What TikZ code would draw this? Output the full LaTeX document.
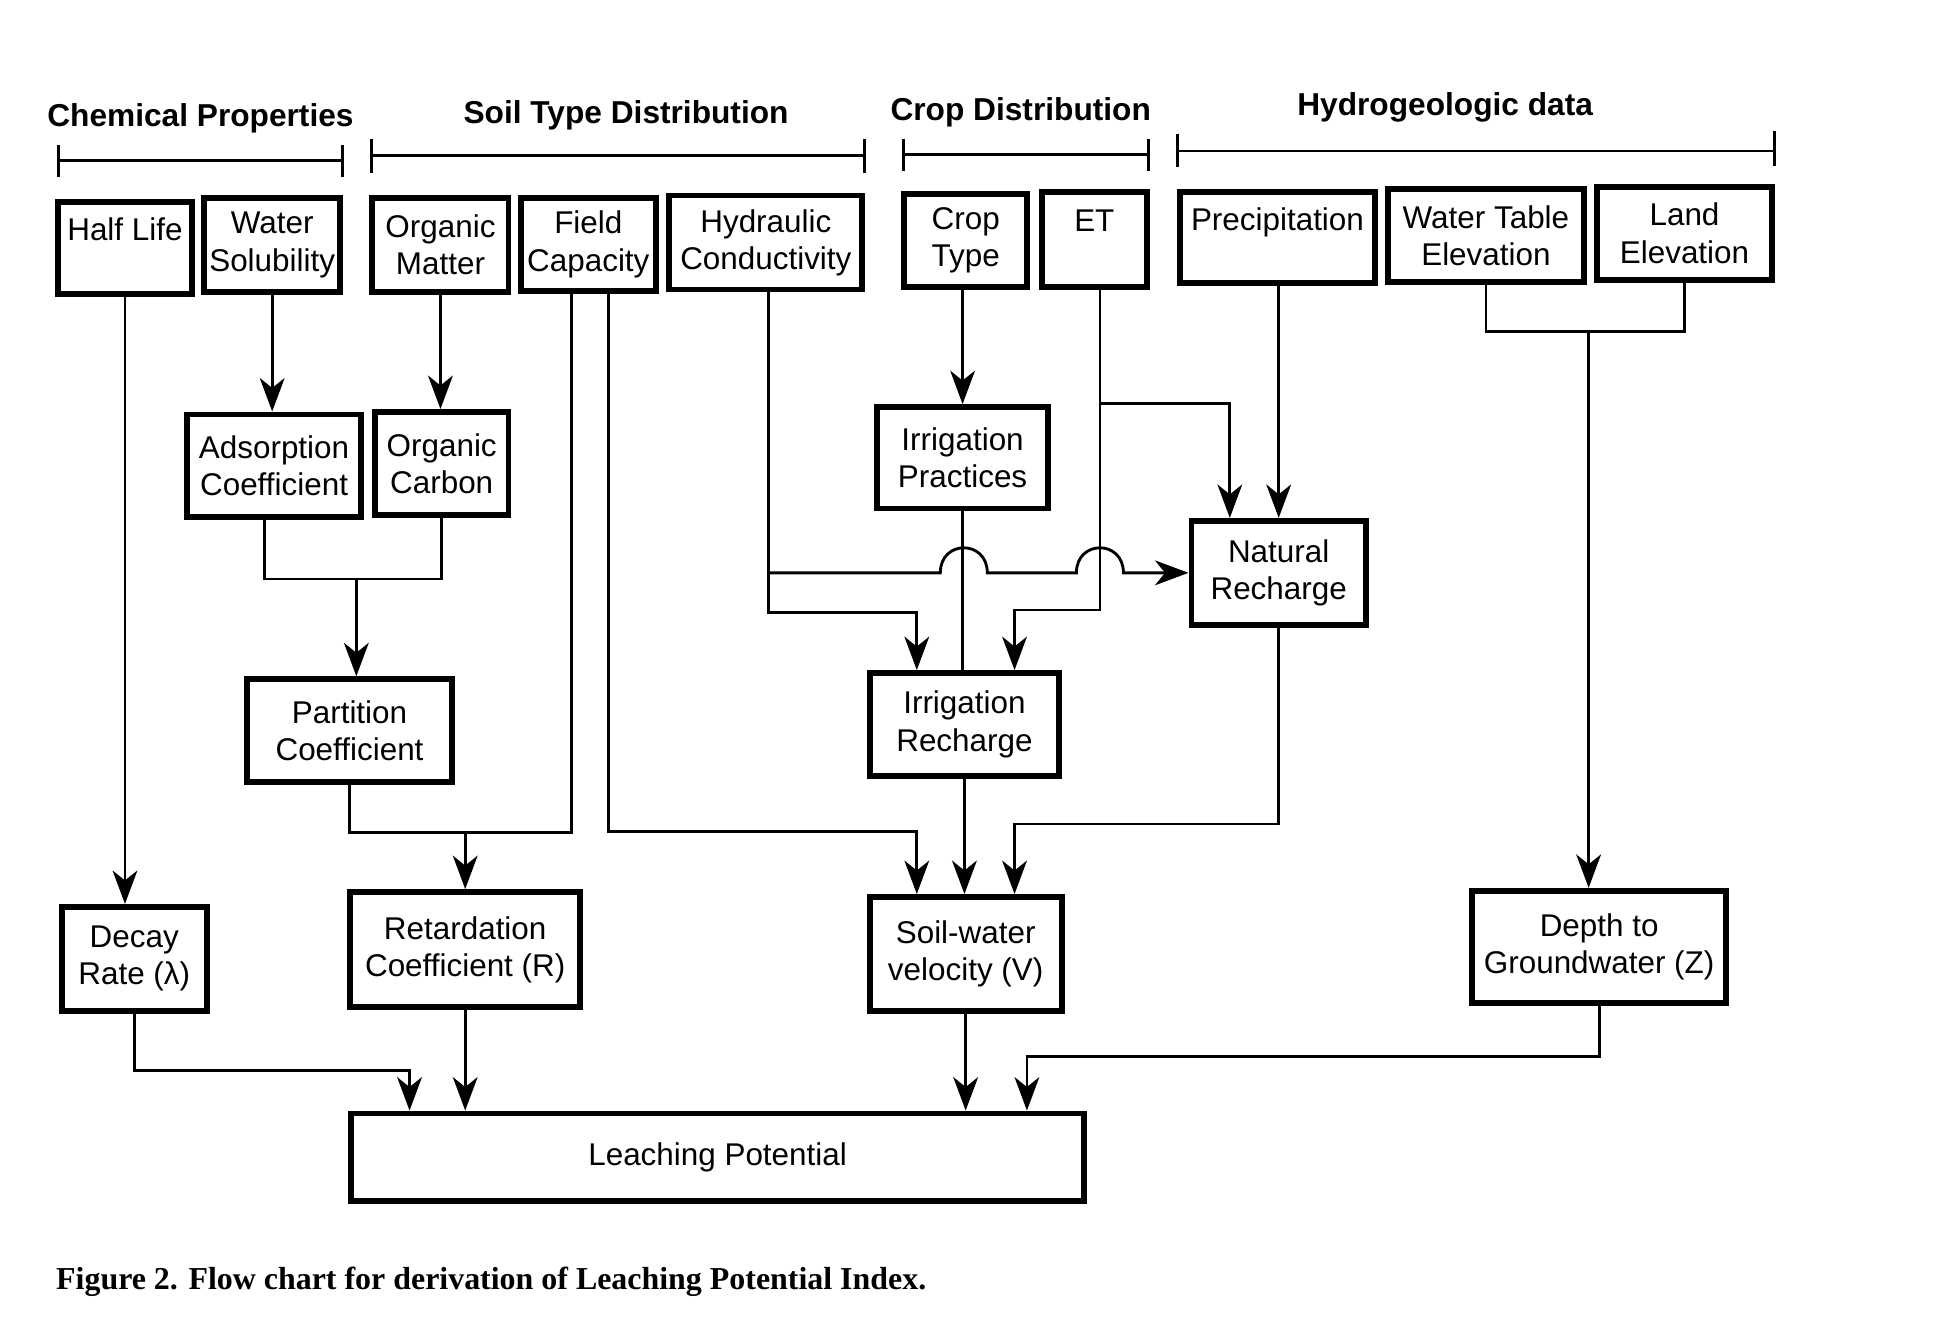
\documentclass[tikz,border=0pt]{standalone}
\usepackage{fontspec}
\setmainfont{Liberation Sans}
\newfontfamily\capfont{Liberation Serif}
\usetikzlibrary{arrows.meta}
\newcommand\bxnode[6]{\node[box, minimum width={(#4-#2)*0.5pt}, minimum height={(#5-#3)*0.5pt}] (#1) at ({(#2+#4)/2},{(#3+#5)/2}) {#6};}
\begin{document}
\begin{tikzpicture}[x=0.5pt,y=-0.5pt,
  box/.style={draw, line width=2.4pt, inner sep=0pt, align=center, font=\fontsize{12.7}{15}\selectfont},
  conn/.style={line width=1.15pt},
  arr/.style={conn, -{Stealth[length=13.5pt,width=10pt,inset=4pt]}},
  hdr/.style={inner sep=0pt, font=\fontsize{12.8}{15}\selectfont\bfseries},
  brk/.style={line width=1.15pt}]
\useasboundingbox[fill=white] (0,0) rectangle (1568,1074);

% headers
\node[hdr] (h1) at (162,96) {Chemical Properties};
\node[hdr] (h2) at (506,93) {Soil Type Distribution};
\node[hdr] (h3) at (825,91) {Crop Distribution};
\node[hdr] (h4) at (1168,87) {Hydrogeologic data};
\draw[brk] (47,117) -- (47,143) (47,130) -- (277,130) (277,117) -- (277,143);
\draw[brk] (300,112) -- (300,140) (300,126) -- (699,126) (699,112) -- (699,140);
\draw[brk] (730,112) -- (730,138) (730,125) -- (928,125) (928,112) -- (928,138);
\draw[brk] (952,108) -- (952,135) (952,122) -- (1434,122) (1434,106) -- (1434,134);

% top row
\bxnode{halflife}{47}{163}{155}{238}{Half Life\\\mbox{}}
\bxnode{watersol}{165}{160}{275}{236}{Water\\Solubility}
\bxnode{orgmat}{301}{160}{411}{236}{Organic\\Matter}
\bxnode{fieldcap}{421}{160}{530}{235}{Field\\Capacity}
\bxnode{hydcond}{541}{158}{697}{234}{Hydraulic\\Conductivity}
\bxnode{croptype}{731}{157}{830}{232}{Crop\\Type}
\bxnode{et}{842}{155}{927}{232}{ET\\\mbox{}}
\bxnode{precip}{954}{155}{1111}{229}{Precipitation\\\mbox{}}
\bxnode{wtable}{1122}{153}{1280}{228}{Water Table\\Elevation}
\bxnode{landel}{1291}{151}{1432}{226}{Land\\Elevation}

% middle
\bxnode{adsorp}{151}{335}{292}{418}{Adsorption\\Coefficient}
\bxnode{orgcarb}{303}{333}{411}{416}{Organic\\Carbon}
\bxnode{irrprac}{709}{329}{847}{411}{Irrigation\\Practices}
\bxnode{natrech}{963}{421}{1104}{505}{Natural\\Recharge}
\bxnode{partition}{200}{549}{365}{632}{Partition\\Coefficient}
\bxnode{irrrech}{703}{544}{856}{627}{Irrigation\\Recharge}

% lower
\bxnode{decay}{50}{733}{167}{817}{Decay\\Rate (λ)}
\bxnode{retard}{283}{721}{469}{814}{Retardation\\Coefficient (R)}
\bxnode{soilwater}{703}{725}{858}{817}{Soil-water\\velocity (V)}
\bxnode{depth}{1190}{720}{1395}{811}{Depth to\\Groundwater (Z)}
\bxnode{leach}{284}{900}{876}{971}{Leaching Potential}

% junctions
\coordinate (jA) at (288,468);
\coordinate (jB) at (376,673);
\coordinate (jC) at (741,672);
\coordinate (jD) at (741,495);
\coordinate (jE) at (621,463);
\coordinate (jF) at (820,493);
\coordinate (jG) at (889,326);
\coordinate (jH) at (820,666);
\coordinate (jI) at (1284,268);
\coordinate (jJ) at (331,865);
\coordinate (jK) at (830,854);

% connectors
\draw[arr] (halflife.south) -- (halflife.south |- decay.north);
\draw[arr] (watersol.south) -- (watersol.south |- adsorp.north);
\draw[arr] (orgmat.south) -- (orgmat.south |- orgcarb.north);
\draw[conn] (adsorp.south -| 214,0) |- (jA) -| (orgcarb.south);
\draw[arr] (jA) -- (jA |- partition.north);
\draw[conn] (partition.south) |- (jB) -| (fieldcap.south -| 462,0);
\draw[arr] (jB) -- (jB |- retard.north);
\draw[arr] (fieldcap.south -| 492,0) |- (jC) -- (jC |- soilwater.north);
\draw[arr] (hydcond.south -| 621,0) |- (jD) -- (jD |- irrrech.north);
\draw[arr] (jE) -- (760,463) .. controls (760,436) and (798,436) .. (798,463)
  -- (870,463) .. controls (870,436) and (908,436) .. (908,463) -- (natrech.west);
\draw[arr] (irrprac.north |- croptype.south) -- (irrprac.north);
\draw[conn] (irrprac.south) -- (irrprac.south |- irrrech.north);
\draw[arr] (et.south -| jG) |- (jF) -- (jF |- irrrech.north);
\draw[arr] (jG) -| (natrech.north -| 994,0);
\draw[arr] (natrech.north |- precip.south) -- (natrech.north);
\draw[arr] (natrech.south) |- (jH) -- (jH |- soilwater.north);
\draw[arr] (irrrech.south) -- (irrrech.south |- soilwater.north);
\draw[conn] (wtable.south) |- (jI) -| (landel.south);
\draw[arr] (jI) -- (jI |- depth.north);
\draw[arr] (decay.south) |- (jJ) -- (jJ |- leach.north);
\draw[arr] (retard.south) -- (retard.south |- leach.north);
\draw[arr] (soilwater.south) -- (soilwater.south |- leach.north);
\draw[arr] (depth.south) |- (jK) -- (jK |- leach.north);

% caption
\node[anchor=west, inner sep=0pt, font={\capfont\bfseries\fontsize{12.9}{15}\selectfont}] (cap) at (45,1036) {Figure 2. Flow chart for derivation of Leaching Potential Index.};
\end{tikzpicture}
\end{document}
